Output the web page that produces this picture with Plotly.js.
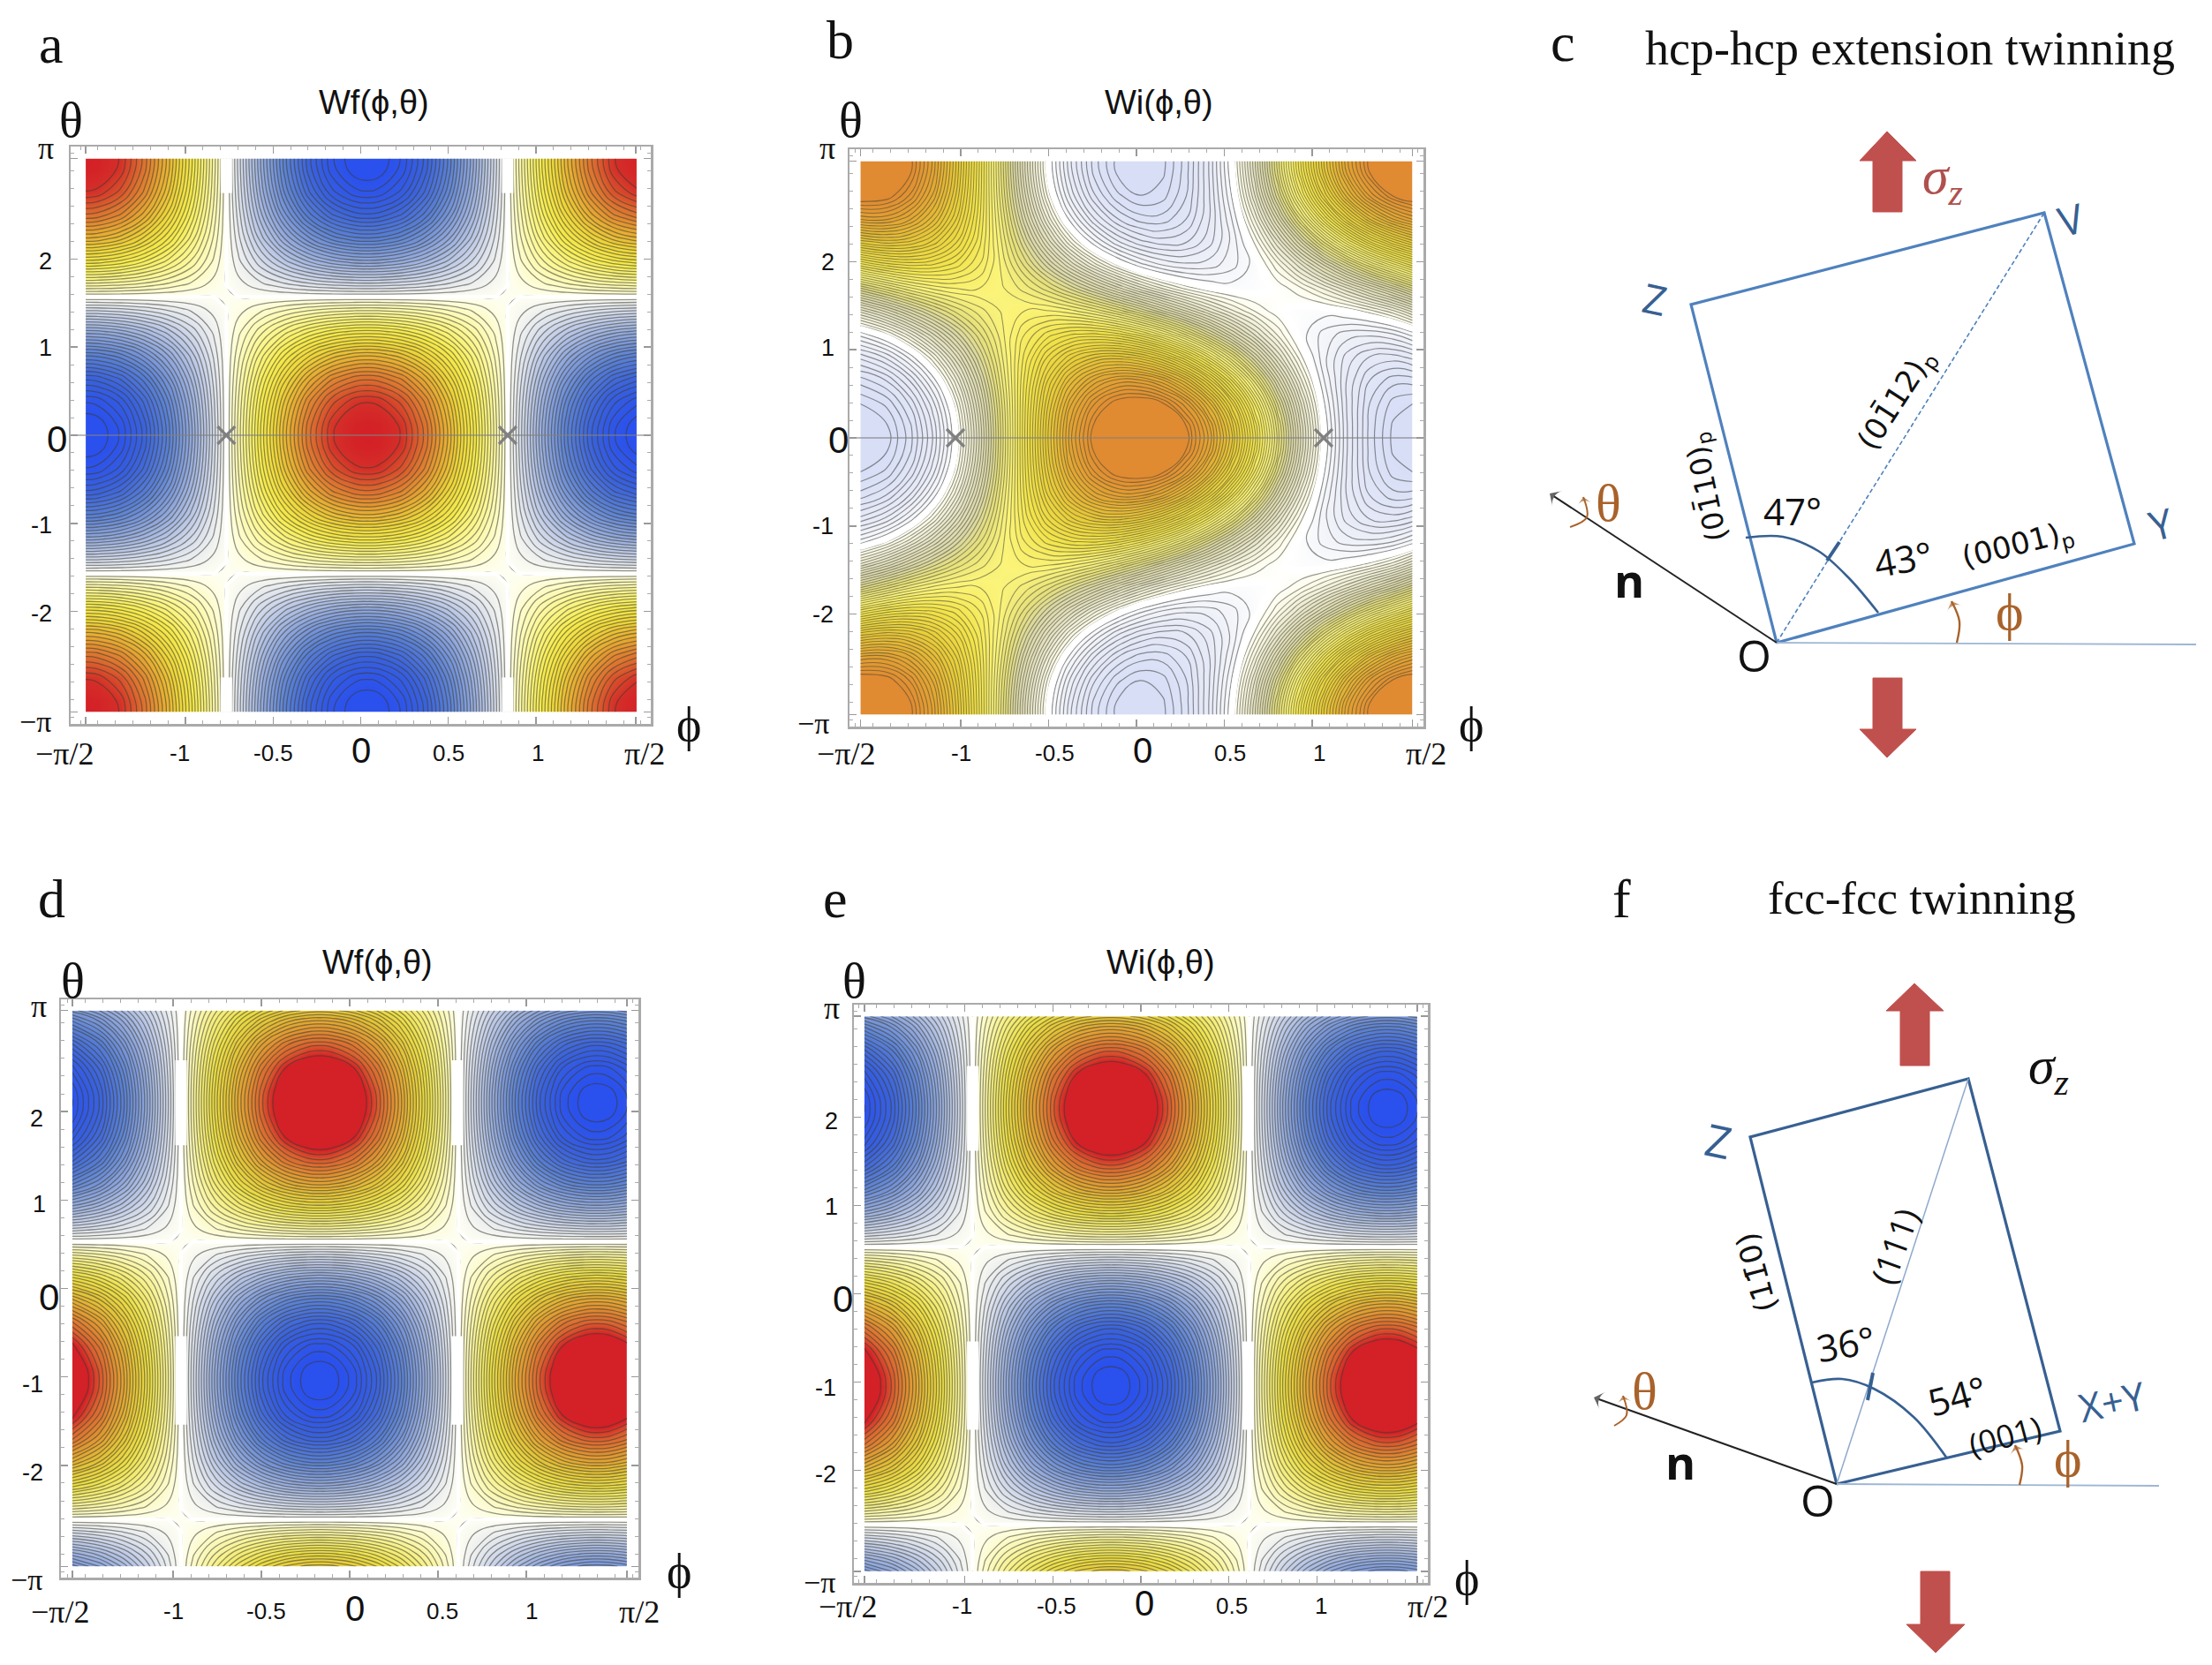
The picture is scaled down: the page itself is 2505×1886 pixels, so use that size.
<!DOCTYPE html>
<html><head><meta charset="utf-8">
<script src="https://cdn.plot.ly/plotly-3.0.1.min.js"></script>
<style>html,body{margin:0;padding:0;background:#fff}#c{width:2505px;height:1886px}</style>
</head><body><div id="c"></div>
<script>
const thetaA=[-3.142,-3.011,-2.749,-2.487,-2.225,-1.963,-1.702,-1.440,-1.178,-.916,-.654,-.393,-.131,0,.131,.393,.654,.916,1.178,1.440,1.702,1.963,2.225,2.487,2.749,3.011,3.142];
const phiA=[-1.570,-1.503,-1.369,-1.235,-1.102,-.968,-.834,-.700,-.566,-.432,-.299,-.165,-.031,.036,.103,.237,.371,.504,.638,.772,.906,1.040,1.174,1.307,1.441,1.575];
const zA=[
[1000,991,924,793,609,383,131,-131,-383,-609,-793,-924,-991,-1000,-991,-924,-793,-609,-383,-131,131,383,609,793,924,991],
[991,982,916,786,604,380,130,-130,-380,-604,-786,-916,-982,-991,-982,-916,-786,-604,-380,-130,130,380,604,786,916,982],
[924,916,854,733,563,354,121,-121,-354,-563,-733,-854,-916,-924,-916,-854,-733,-563,-354,-121,121,354,563,733,854,916],
[793,786,733,629,483,304,104,-104,-304,-483,-629,-733,-786,-793,-786,-733,-629,-483,-304,-104,104,304,483,629,733,786],
[609,604,563,483,371,233,80,-80,-233,-371,-483,-563,-604,-609,-604,-563,-483,-371,-233,-80,80,233,371,483,563,604],
[383,380,354,304,233,147,50,-50,-147,-233,-304,-354,-380,-383,-380,-354,-304,-233,-147,-50,50,147,233,304,354,380],
[131,130,121,104,80,50,17,-17,-50,-80,-104,-121,-130,-131,-130,-121,-104,-80,-50,-17,17,50,80,104,121,130],
[-131,-130,-121,-104,-80,-50,-17,17,50,80,104,121,130,131,130,121,104,80,50,17,-17,-50,-80,-104,-121,-130],
[-383,-380,-354,-304,-233,-147,-50,50,147,233,304,354,380,383,380,354,304,233,147,50,-50,-147,-233,-304,-354,-380],
[-609,-604,-563,-483,-371,-233,-80,80,233,371,483,563,604,609,604,563,483,371,233,80,-80,-233,-371,-483,-563,-604],
[-793,-786,-733,-629,-483,-304,-104,104,304,483,629,733,786,793,786,733,629,483,304,104,-104,-304,-483,-629,-733,-786],
[-924,-916,-854,-733,-563,-354,-121,121,354,563,733,854,916,924,916,854,733,563,354,121,-121,-354,-563,-733,-854,-916],
[-991,-982,-916,-786,-604,-380,-130,130,380,604,786,916,982,991,982,916,786,604,380,130,-130,-380,-604,-786,-916,-982],
[-1000,-991,-924,-793,-609,-383,-131,131,383,609,793,924,991,1000,991,924,793,609,383,131,-131,-383,-609,-793,-924,-991],
[-991,-982,-916,-786,-604,-380,-130,130,380,604,786,916,982,991,982,916,786,604,380,130,-130,-380,-604,-786,-916,-982],
[-924,-916,-854,-733,-563,-354,-121,121,354,563,733,854,916,924,916,854,733,563,354,121,-121,-354,-563,-733,-854,-916],
[-793,-786,-733,-629,-483,-304,-104,104,304,483,629,733,786,793,786,733,629,483,304,104,-104,-304,-483,-629,-733,-786],
[-609,-604,-563,-483,-371,-233,-80,80,233,371,483,563,604,609,604,563,483,371,233,80,-80,-233,-371,-483,-563,-604],
[-383,-380,-354,-304,-233,-147,-50,50,147,233,304,354,380,383,380,354,304,233,147,50,-50,-147,-233,-304,-354,-380],
[-131,-130,-121,-104,-80,-50,-17,17,50,80,104,121,130,131,130,121,104,80,50,17,-17,-50,-80,-104,-121,-130],
[131,130,121,104,80,50,17,-17,-50,-80,-104,-121,-130,-131,-130,-121,-104,-80,-50,-17,17,50,80,104,121,130],
[383,380,354,304,233,147,50,-50,-147,-233,-304,-354,-380,-383,-380,-354,-304,-233,-147,-50,50,147,233,304,354,380],
[609,604,563,483,371,233,80,-80,-233,-371,-483,-563,-604,-609,-604,-563,-483,-371,-233,-80,80,233,371,483,563,604],
[793,786,733,629,483,304,104,-104,-304,-483,-629,-733,-786,-793,-786,-733,-629,-483,-304,-104,104,304,483,629,733,786],
[924,916,854,733,563,354,121,-121,-354,-563,-733,-854,-916,-924,-916,-854,-733,-563,-354,-121,121,354,563,733,854,916],
[991,982,916,786,604,380,130,-130,-380,-604,-786,-916,-982,-991,-982,-916,-786,-604,-380,-130,130,380,604,786,916,982],
[1000,991,924,793,609,383,131,-131,-383,-609,-793,-924,-991,-1000,-991,-924,-793,-609,-383,-131,131,383,609,793,924,991]];
const thetaB=[-3.142,-3.011,-2.749,-2.487,-2.225,-1.963,-1.702,-1.440,-1.178,-.916,-.654,-.393,-.131,.131,.393,.654,.916,1.178,1.440,1.702,1.963,2.225,2.487,2.749,3.011,3.142];
const phiB=[-1.571,-1.420,-1.289,-1.158,-1.027,-.896,-.765,-.634,-.503,-.373,-.242,-.111,.020,.151,.282,.413,.544,.675,.805,.936,1.067,1.198,1.329,1.460,1.571];
const zB=[
[750,733,683,604,500,380,250,121,1,-104,-183,-233,-250,-233,-183,-104,1,121,250,380,500,604,683,733,750],
[744,728,679,601,498,379,251,122,3,-100,-180,-230,-247,-231,-182,-104,-2,117,246,374,494,597,676,727,744],
[697,687,646,578,485,376,257,137,23,-76,-154,-205,-227,-217,-176,-107,-15,95,213,334,447,546,624,676,697],
[610,611,584,533,460,369,269,164,63,-28,-103,-156,-184,-185,-158,-107,-34,57,157,262,363,454,529,582,610],
[492,506,498,469,421,357,282,200,117,39,-29,-83,-117,-131,-124,-95,-47,17,93,175,258,336,404,457,492],
[356,383,394,390,371,338,293,239,180,120,63,13,-27,-53,-65,-61,-42,-9,37,91,149,209,266,316,356],
[217,253,282,302,312,311,299,277,247,210,169,127,86,50,21,1,-9,-8,4,26,57,94,135,177,217],
[86,127,169,210,247,277,299,311,312,302,282,253,217,177,135,94,57,26,4,-8,-9,1,21,50,86],
[-27,13,63,120,180,239,293,338,371,390,394,383,356,316,266,209,149,91,37,-9,-42,-61,-65,-53,-27],
[-117,-83,-29,39,117,200,282,357,421,469,498,506,492,457,404,336,258,175,93,17,-47,-95,-124,-131,-117],
[-184,-156,-103,-28,63,164,269,369,460,533,584,611,610,582,529,454,363,262,157,57,-34,-107,-158,-185,-184],
[-227,-205,-154,-76,23,137,257,376,485,578,646,687,697,676,624,546,447,334,213,95,-15,-107,-176,-217,-227],
[-247,-230,-180,-100,3,122,251,379,498,601,679,728,744,727,676,597,494,374,246,117,-2,-104,-182,-231,-247],
[-247,-230,-180,-100,3,122,251,379,498,601,679,728,744,727,676,597,494,374,246,117,-2,-104,-182,-231,-247],
[-227,-205,-154,-76,23,137,257,376,485,578,646,687,697,676,624,546,447,334,213,95,-15,-107,-176,-217,-227],
[-184,-156,-103,-28,63,164,269,369,460,533,584,611,610,582,529,454,363,262,157,57,-34,-107,-158,-185,-184],
[-117,-83,-29,39,117,200,282,357,421,469,498,506,492,457,404,336,258,175,93,17,-47,-95,-124,-131,-117],
[-27,13,63,120,180,239,293,338,371,390,394,383,356,316,266,209,149,91,37,-9,-42,-61,-65,-53,-27],
[86,127,169,210,247,277,299,311,312,302,282,253,217,177,135,94,57,26,4,-8,-9,1,21,50,86],
[217,253,282,302,312,311,299,277,247,210,169,127,86,50,21,1,-9,-8,4,26,57,94,135,177,217],
[356,383,394,390,371,338,293,239,180,120,63,13,-27,-53,-65,-61,-42,-9,37,91,149,209,266,316,356],
[492,506,498,469,421,357,282,200,117,39,-29,-83,-117,-131,-124,-95,-47,17,93,175,258,336,404,457,492],
[610,611,584,533,460,369,269,164,63,-28,-103,-156,-184,-185,-158,-107,-34,57,157,262,363,454,529,582,610],
[697,687,646,578,485,376,257,137,23,-76,-154,-205,-227,-217,-176,-107,-15,95,213,334,447,546,624,676,697],
[744,728,679,601,498,379,251,122,3,-100,-180,-230,-247,-231,-182,-104,-2,117,246,374,494,597,676,727,744],
[750,733,683,604,500,380,250,121,1,-104,-183,-233,-250,-233,-183,-104,1,121,250,380,500,604,683,733,750]];
const phiD=[-1.571,-1.413,-1.283,-1.152,-1.021,-.890,-.759,-.628,-.497,-.366,-.235,-.170,-.105,.026,.157,.288,.419,.550,.681,.812,.943,1.073,1.204,1.335,1.400,1.466,1.571];
const thetaD=[-3.142,-3.005,-2.743,-2.482,-2.220,-1.958,-1.696,-1.434,-1.173,-1.042,-.911,-.649,-.387,-.125,.137,.398,.660,.922,1.184,1.446,1.707,1.969,2.100,2.231,2.493,2.755,3.016,3.142];
const zD=[
[-472,-397,-305,-192,-66,66,192,305,397,462,496,500,496,462,397,305,192,66,-66,-192,-305,-397,-462,-496,-500,-496,-472],
[-361,-304,-233,-147,-50,50,147,233,304,354,380,383,380,354,304,233,147,50,-50,-147,-233,-304,-354,-380,-383,-380,-361],
[-124,-104,-80,-50,-17,17,50,80,104,121,130,131,130,121,104,80,50,17,-17,-50,-80,-104,-121,-130,-131,-130,-124],
[124,104,80,50,17,-17,-50,-80,-104,-121,-130,-131,-130,-121,-104,-80,-50,-17,17,50,80,104,121,130,131,130,124],
[361,304,233,147,50,-50,-147,-233,-304,-354,-380,-383,-380,-354,-304,-233,-147,-50,50,147,233,304,354,380,383,380,361],
[574,483,371,233,80,-80,-233,-371,-483,-563,-604,-609,-604,-563,-483,-371,-233,-80,80,233,371,483,563,604,609,604,574],
[748,629,483,304,104,-104,-304,-483,-629,-733,-786,-793,-786,-733,-629,-483,-304,-104,104,304,483,629,733,786,793,786,748],
[871,733,563,354,121,-121,-354,-563,-733,-854,-916,-924,-916,-854,-733,-563,-354,-121,121,354,563,733,854,916,924,916,871],
[935,786,604,380,130,-130,-380,-604,-786,-916,-982,-991,-982,-916,-786,-604,-380,-130,130,380,604,786,916,982,991,982,935],
[943,793,609,383,131,-131,-383,-609,-793,-924,-991,-1000,-991,-924,-793,-609,-383,-131,131,383,609,793,924,991,1000,991,943],
[935,786,604,380,130,-130,-380,-604,-786,-916,-982,-991,-982,-916,-786,-604,-380,-130,130,380,604,786,916,982,991,982,935],
[871,733,563,354,121,-121,-354,-563,-733,-854,-916,-924,-916,-854,-733,-563,-354,-121,121,354,563,733,854,916,924,916,871],
[748,629,483,304,104,-104,-304,-483,-629,-733,-786,-793,-786,-733,-629,-483,-304,-104,104,304,483,629,733,786,793,786,748],
[574,483,371,233,80,-80,-233,-371,-483,-563,-604,-609,-604,-563,-483,-371,-233,-80,80,233,371,483,563,604,609,604,574],
[361,304,233,147,50,-50,-147,-233,-304,-354,-380,-383,-380,-354,-304,-233,-147,-50,50,147,233,304,354,380,383,380,361],
[124,104,80,50,17,-17,-50,-80,-104,-121,-130,-131,-130,-121,-104,-80,-50,-17,17,50,80,104,121,130,131,130,124],
[-124,-104,-80,-50,-17,17,50,80,104,121,130,131,130,121,104,80,50,17,-17,-50,-80,-104,-121,-130,-131,-130,-124],
[-361,-304,-233,-147,-50,50,147,233,304,354,380,383,380,354,304,233,147,50,-50,-147,-233,-304,-354,-380,-383,-380,-361],
[-574,-483,-371,-233,-80,80,233,371,483,563,604,609,604,563,483,371,233,80,-80,-233,-371,-483,-563,-604,-609,-604,-574],
[-748,-629,-483,-304,-104,104,304,483,629,733,786,793,786,733,629,483,304,104,-104,-304,-483,-629,-733,-786,-793,-786,-748],
[-871,-733,-563,-354,-121,121,354,563,733,854,916,924,916,854,733,563,354,121,-121,-354,-563,-733,-854,-916,-924,-916,-871],
[-935,-786,-604,-380,-130,130,380,604,786,916,982,991,982,916,786,604,380,130,-130,-380,-604,-786,-916,-982,-991,-982,-935],
[-943,-793,-609,-383,-131,131,383,609,793,924,991,1000,991,924,793,609,383,131,-131,-383,-609,-793,-924,-991,-1000,-991,-943],
[-935,-786,-604,-380,-130,130,380,604,786,916,982,991,982,916,786,604,380,130,-130,-380,-604,-786,-916,-982,-991,-982,-935],
[-871,-733,-563,-354,-121,121,354,563,733,854,916,924,916,854,733,563,354,121,-121,-354,-563,-733,-854,-916,-924,-916,-871],
[-748,-629,-483,-304,-104,104,304,483,629,733,786,793,786,733,629,483,304,104,-104,-304,-483,-629,-733,-786,-793,-786,-748],
[-574,-483,-371,-233,-80,80,233,371,483,563,604,609,604,563,483,371,233,80,-80,-233,-371,-483,-563,-604,-609,-604,-574],
[-472,-397,-305,-192,-66,66,192,305,397,462,496,500,496,462,397,305,192,66,-66,-192,-305,-397,-462,-496,-500,-496,-472]];
const zE=zD;
const saddleA={x:[-.767,.839],y:[0,0]};
const saddleB={x:[-1.03,1.065],y:[0,0]};
const gapsA={x:[-.767,-.767,null,-.767,-.767,null,.839,.839,null,.839,.839],y:[3.142,2.75,null,-2.75,-3.142,null,3.142,2.75,null,-2.75,-3.142]};
const gapsD={x:[-.955,-.955,null,-.955,-.955,null,.61,.61,null,.61,.61],y:[2.58,1.62,null,-.54,-1.54,null,2.58,1.62,null,-.54,-1.54]};

const tvx=[-1.5708,-1,-.5,0,.5,1,1.5708], tvy=[-3.1416,-2,-1,0,1,2,3.1416];
const scA=[[-1,'#2a50ee'],[-.97,'#2a50ee'],[-.8,'#3a62dc'],[-.6,'#5c82d4'],[-.4,'#8ea6dc'],[-.2,'#c6d0e8'],[-.06,'#eef0f0'],[0,'#fefef2'],[.06,'#fdfccc'],[.2,'#fbf68c'],[.35,'#f6ec4e'],[.5,'#eed63a'],[.65,'#e6a832'],[.8,'#dc7030'],[.93,'#d42e28'],[1,'#d42027']];
const scD=[[-1,'#2a50ee'],[-.965,'#2a50ee'],[-.8,'#3a62dc'],[-.6,'#5c82d4'],[-.4,'#8ea6dc'],[-.2,'#c6d0e8'],[-.06,'#eef0f0'],[0,'#fefef2'],[.06,'#fcfbcc'],[.2,'#f6f084'],[.35,'#ece048'],[.5,'#e4c438'],[.65,'#e09832'],[.78,'#da6430'],[.855,'#d42027'],[1,'#d42027']];
const scB=[[-.25,'#d7def6'],[-.228,'#d7def6'],[-.1,'#e8ebf7'],[-.02,'#f8f9fb'],[0,'#ffffff'],[.03,'#fdfcec'],[.1,'#e6e4c8'],[.18,'#dbd8a8'],[.24,'#e6e07c'],[.3,'#fbf47a'],[.38,'#f2e44c'],[.48,'#e8ce3a'],[.58,'#e3aa34'],[.68,'#e08a32'],[.75,'#e08a32']];
function norm(s,a,b){return s.map(p=>[(p[0]-a)/(b-a),p[1]]);}

const traces=[]; 
const layout={width:2505,height:1886,margin:{l:0,r:0,t:0,b:0},paper_bgcolor:'#fff',plot_bgcolor:'rgba(0,0,0,0)',showlegend:false,annotations:[]};
function panel(n,frame,xh,yh,x,y,z,o){
  const xa='x'+n, ya='y'+n, k=n===1?'':n;
  const lineStyle={color:o.lc,width:o.lw,smoothing:1.3};
  layout['xaxis'+k]={domain:[frame[0]/2505,frame[1]/2505],range:[-xh,xh],anchor:ya,tickmode:'array',tickvals:tvx,showticklabels:false,ticks:'inside',ticklen:8,tickwidth:1.5,tickcolor:'#999',mirror:'allticks',showline:true,linecolor:'#aaa',linewidth:2.5,showgrid:false,zeroline:false,minor:{tickmode:'linear',tick0:0,dtick:.1,ticks:'inside',ticklen:4,tickwidth:1,tickcolor:'#aaa',showgrid:false}};
  layout['yaxis'+k]={domain:[1-frame[3]/1886,1-frame[2]/1886],range:[-yh,yh],anchor:xa,tickmode:'array',tickvals:tvy,showticklabels:false,ticks:'inside',ticklen:8,tickwidth:1.5,tickcolor:'#999',mirror:'allticks',showline:true,linecolor:'#aaa',linewidth:2.5,showgrid:false,zeroline:false,minor:{tickmode:'linear',tick0:0,dtick:.2,ticks:'inside',ticklen:4,tickwidth:1,tickcolor:'#aaa',showgrid:false}};
  traces.push({type:'contour',x,y,z,xaxis:xa,yaxis:ya,zmin:o.zmin*1000,zmax:o.zmax*1000,zauto:false,showscale:false,hoverinfo:'skip',colorscale:norm(o.sc,o.zmin,o.zmax),
    contours:{coloring:'heatmap',showlines:true,start:o.start*1000,end:o.end*1000,size:o.size*1000},line:lineStyle});
  if(o.neg)traces.push({type:'contour',x,y,z,xaxis:xa,yaxis:ya,showscale:false,hoverinfo:'skip',contours:{coloring:'none',start:o.neg[0]*1000,end:o.neg[1]*1000,size:o.neg[2]*1000},line:{color:'rgba(60,60,60,.55)',width:1.2,smoothing:1.3}});
  traces.push({type:'contour',x,y,z,xaxis:xa,yaxis:ya,showscale:false,hoverinfo:'skip',contours:{coloring:'none',start:0,end:0,size:1},line:{color:'#fff',width:o.zw,smoothing:o.zs}});
  if(o.gaps)traces.push({type:'scatter',mode:'lines',x:o.gaps.x,y:o.gaps.y,xaxis:xa,yaxis:ya,line:{color:'#fff',width:13},hoverinfo:'skip'});
  if(o.axisLine)traces.push({type:'scatter',mode:'lines',x:[-xh,xh],y:[0,0],xaxis:xa,yaxis:ya,line:{color:'rgba(130,130,130,.55)',width:2},hoverinfo:'skip'});
  if(o.saddle)traces.push({type:'scatter',mode:'markers',x:o.saddle.x,y:o.saddle.y,xaxis:xa,yaxis:ya,marker:{symbol:'x-thin',size:20,line:{color:'#808080',width:3.2}},hoverinfo:'skip'});
}
const LC='rgba(60,60,50,.55)';
panel(1,[80,737,166,820],1.656,3.278,phiA,thetaA,zA,{lc:LC,lw:1.3,sc:scA,zmin:-1,zmax:1,start:-.961,end:.93,size:.031,zw:4,zs:0,gaps:gapsA,axisLine:true,saddle:saddleA});
panel(2,[962,1612,169,823],1.633,3.278,phiB,thetaB,zB,{lc:'rgba(70,70,50,.55)',lw:1.1,sc:scB,zmin:-.25,zmax:.75,start:.0135,end:.675,size:.0135,neg:[-.2275,-.0175,.0175],zw:7,zs:1,axisLine:true,saddle:saddleB});
panel(3,[69,723,1132,1787],1.635,3.268,phiD,thetaD,zD,{lc:LC,lw:1.3,sc:scD,zmin:-1,zmax:1,start:-.969,end:.855,size:.0285,zw:4,zs:0,gaps:gapsD});
panel(4,[967,1617,1138,1793],1.63,3.274,phiD,thetaD,zE,{lc:LC,lw:1.3,sc:scD,zmin:-1,zmax:1,start:-.969,end:.855,size:.0285,zw:4,zs:0,gaps:gapsD});

layout.xaxis5={domain:[0,1],range:[0,2505],anchor:'y5',visible:false,fixedrange:true};
layout.yaxis5={domain:[0,1],range:[1886,0],anchor:'x5',visible:false,fixedrange:true};
function L(x,y,color,width,extra){traces.push({type:'scatter',mode:'lines',x,y,xaxis:'x5',yaxis:'y5',hoverinfo:'skip',line:Object.assign({color,width},extra||{})});}
function P(x,y,color){traces.push({type:'scatter',mode:'lines',x,y,xaxis:'x5',yaxis:'y5',fill:'toself',fillcolor:color,line:{color:color,width:1},hoverinfo:'skip'});}
function A(x,y,color,w,head,shape){traces.push({type:'scatter',mode:'lines+markers',x,y,xaxis:'x5',yaxis:'y5',hoverinfo:'skip',line:{color,width:w,shape:shape||'linear'},marker:{symbol:'arrow-wide',angleref:'previous',color,size:x.map((_,i)=>i===x.length-1?head:0),line:{width:0}}});}

const SANS='"Liberation Sans",Arial,sans-serif', SERIF='"Liberation Serif","Times New Roman",serif', CAL='"Open Sans","Noto Sans",sans-serif', DJ='"DejaVu Sans",sans-serif';
function T(text,x,y,size,font,color,angle){layout.annotations.push({text,x,y,xref:'x5',yref:'y5',showarrow:false,xanchor:'center',yanchor:'middle',font:{size,family:font||SANS,color:color||'#111'},textangle:angle||0});}
function ticksText(t,v,h){
  T('π',v[0],t[0]-3,36,SERIF);T('2',v[1],t[1],27);T('1',v[2],t[2],27);T('0',v[3],t[3],42);T('-1',v[4],t[4],27);T('-2',v[5],t[5],27);T('−π',v[6],t[6]-3,34,SERIF);
  T('−π/2',h[0],h[7]+1,36,SERIF);T('-1',h[1],h[7],26);T('-0.5',h[2],h[7],26);T('0',h[3],h[7]-3,40);T('0.5',h[4],h[7],26);T('1',h[5],h[7],26);T('π/2',h[6],h[7]+1,36,SERIF);
}
T('a',58,50,62,SERIF);T('b',951,45,62,SERIF);T('c',1770,48,62,SERIF);T('d',58,1018,62,SERIF);T('e',946,1018,62,SERIF);T('f',1836,1018,62,SERIF);
const TI=38,GR=56,PH=54;
T('Wf(ϕ,θ)',423,116,TI);T('θ',80,136,GR,SERIF);T('ϕ',780,821,PH,SERIF);
ticksText([171,296,394,497,595,695,820],[52,51,51,64,47,47,40],[73,203,309,409,508,609,730,853]);
T('Wi(ϕ,θ)',1312,116,TI);T('θ',963,136,GR,SERIF);T('ϕ',1666,821,PH,SERIF);
ticksText([171,297,394,498,596,696,822],[937,937,937,949,932,932,921],[958,1088,1194,1294,1393,1494,1615,853]);
T('Wf(ϕ,θ)',427,1090,TI);T('θ',82,1111,GR,SERIF);T('ϕ',769,1780,PH,SERIF);
ticksText([1143,1267,1364,1469,1568,1668,1792],[44,41,44,55,37,37,30],[68,196,301,402,501,602,724,1825]);
T('Wi(ϕ,θ)',1314,1090,TI);T('θ',967,1111,GR,SERIF);T('ϕ',1661,1788,PH,SERIF);
ticksText([1145,1270,1367,1471,1572,1670,1795],[942,941,941,954,935,935,928],[960,1089,1196,1296,1395,1496,1617,1819]);

const BLUE='#4f81bd',DBLUE='#376092',RED='#c0504d',OR='#a9622a';
// schematic c
const rectCx=[2012,1915,2315,2417,2012], rectCy=[728,345,241,616,728];
L(rectCx,rectCy,BLUE,3.2);
L([2012,2315],[728,241],BLUE,1.6,{dash:'5px,3px'});
L([2012,2487],[728,730],'#9db6d4',1.8);
L([1977,2019,2059,2094,2127],[609,608,624,655,694],DBLUE,2.6,{shape:'spline'});
L([2069,2083],[635,614],DBLUE,4);
A([2012,1755],[728,559],'#222',2,15);
P([2137,2106,2121,2121,2154,2154,2170,2137],[149,182,182,240,240,182,182,149],RED);
P([2121,2154,2154,2170,2137,2106,2121,2121],[768,768,826,826,858,826,826,768],RED);
A([2216,2219,2210],[728,704,681],OR,2.4,13,'spline');
A([1778,1797,1793],[597,586,563],OR,2,11,'spline');
T('hcp-hcp extension twinning',2163,55,54,SERIF);
T('<i>σ<sub>z</sub></i>',2200,203,60,SERIF,'#b0504e');
T('V',2345,248,46,CAL,DBLUE,-14);T('Z',1874,338,46,CAL,DBLUE,12);T('Y',2447,593,46,CAL,DBLUE,-14);T('O',1986,742,50,CAL,'#111');
T('<b>n</b>',1845,656,52,CAL,'#111');T('θ',1821,570,60,SERIF,OR);T('ϕ',2276,693,60,SERIF,OR);
T('47°',2030,578,42,CAL);T('43°',2155,632,42,CAL,'#111',-10);
T('(0001)<sub>p</sub>',2285,618,34,DJ,'#111',-14);
T('(01\u030412)<sub>p</sub>',2148,453,34,DJ,'#111',-57);
T('(01\u030410)<sub>p</sub>',1933,552,33,DJ,'#111',-102);
// schematic f
L([2080,1982,2229,2333,2080],[1681,1288,1222,1621,1681],DBLUE,3.2);
L([2080,2229],[1681,1222],'#8fa9cc',1.5);
L([2080,2445],[1681,1683],'#9db6d4',1.8);
L([2052,2086,2122,2167,2205],[1566,1562,1573,1605,1652],DBLUE,2.6,{shape:'spline'});
L([2121,2115],[1555,1586],DBLUE,4);
A([2080,1805],[1681,1583],'#222',2,15);
P([2168,2136,2152,2152,2185,2185,2201,2168],[1114,1145,1145,1207,1207,1145,1145,1114],RED);
P([2175,2208,2208,2225,2192,2159,2175,2175],[1780,1780,1840,1840,1872,1840,1840,1780],RED);
A([2287,2290,2282],[1682,1660,1637],OR,2.4,13,'spline');
A([1828,1842,1838],[1615,1603,1581],OR,2,11,'spline');
T('fcc-fcc twinning',2176,1017,53,SERIF);
T('<i>σ<sub>z</sub></i>',2320,1211,60,SERIF,'#111');
T('Z',1946,1292,50,CAL,DBLUE,12);T('X+Y',2392,1587,44,CAL,DBLUE,-12);T('O',2058,1699,50,CAL,'#111');
T('<b>n</b>',1903,1655,52,CAL,'#111');T('θ',1862,1576,60,SERIF,OR);T('ϕ',2342,1652,60,SERIF,OR);
T('36°',2090,1521,42,CAL,'#111',-10);T('54°',2216,1580,42,CAL,'#111',-15);
T('(001)',2270,1626,36,CAL,'#111',-15);
T('(11\u03040)',1989,1442,34,DJ,'#111',-105);
T('(111)',2145,1411,38,CAL,'#111',-70);

Plotly.newPlot('c',traces,layout,{staticPlot:true,displayModeBar:false});
</script></body></html>
